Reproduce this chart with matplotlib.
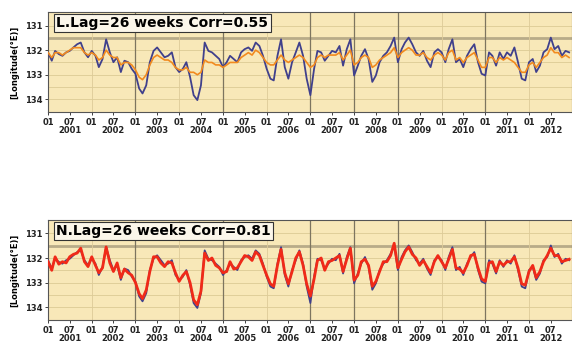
import numpy as np
import pandas as pd
import matplotlib
matplotlib.use("Agg")
import matplotlib.pyplot as plt

# ==== DATA (monthly) ====
observed = [
    132.09, 132.43, 132.03, 132.16, 132.23, 132.09, 132.03, 131.89, 131.76, 131.69, 132.09, 132.29,
    132.03, 132.23, 132.69, 132.36, 131.56, 132.09, 132.49, 132.29, 132.89, 132.43, 132.49, 132.76,
    132.96, 133.56, 133.76, 133.43, 132.49, 132.03, 131.89, 132.09, 132.29, 132.23, 132.09, 132.69,
    132.89, 132.76, 132.49, 133.09, 133.83, 134.03, 133.43, 131.69, 132.03, 132.09, 132.23, 132.36,
    132.69, 132.49, 132.23, 132.36, 132.49, 132.09, 131.96, 131.89, 132.03, 131.69, 131.83, 132.23,
    132.76, 133.16, 133.23, 132.23, 131.56, 132.69, 133.16, 132.49, 132.09, 131.69, 132.23, 133.16,
    133.83, 132.76, 132.03, 132.09, 132.43, 132.23, 132.03, 132.09, 131.83, 132.63, 131.96, 131.56,
    133.03, 132.63, 132.23, 131.96, 132.36, 133.29, 133.03, 132.49, 132.23, 132.09, 131.83, 131.49,
    132.49, 131.96, 131.69, 131.49, 131.76, 132.09, 132.23, 132.03, 132.43, 132.69, 132.09, 131.96,
    132.09, 132.49, 131.96, 131.56, 132.49, 132.36, 132.69, 132.23, 131.96, 131.76, 132.49, 132.96,
    133.03, 132.09, 132.23, 132.63, 132.09, 132.36, 132.09, 132.23, 131.89, 132.49, 133.16, 133.23,
    132.49, 132.36, 132.89, 132.63, 132.09, 131.96, 131.49, 131.96, 131.83, 132.23, 132.03, 132.09,
]

pred_linear = [
    132.1, 132.3, 132.1, 132.1, 132.2, 132.1, 132.0, 131.9, 131.9, 131.9, 132.1, 132.2,
    132.1, 132.2, 132.4, 132.3, 132.0, 132.2, 132.3, 132.3, 132.6, 132.5, 132.5, 132.6,
    132.8, 133.1, 133.2, 133.0, 132.6, 132.3, 132.2, 132.3, 132.4, 132.4, 132.5, 132.7,
    132.8, 132.8, 132.7, 132.9, 132.9, 133.0, 132.9, 132.4, 132.5, 132.5, 132.6, 132.6,
    132.7, 132.6, 132.5, 132.5, 132.5, 132.3, 132.2, 132.1, 132.2, 132.0, 132.1, 132.3,
    132.5, 132.6, 132.6, 132.4, 132.2, 132.4, 132.5, 132.4, 132.3, 132.2, 132.3, 132.5,
    132.7, 132.6, 132.3, 132.2, 132.3, 132.2, 132.2, 132.2, 132.1, 132.4, 132.2, 132.0,
    132.6, 132.5, 132.3, 132.2, 132.3, 132.7, 132.6, 132.4, 132.3, 132.2, 132.1, 131.9,
    132.3, 132.1, 132.0, 131.9, 132.0, 132.2, 132.2, 132.1, 132.3, 132.4, 132.2, 132.1,
    132.2, 132.4, 132.1, 132.0, 132.4, 132.3, 132.5, 132.3, 132.2, 132.1, 132.4, 132.7,
    132.7, 132.3, 132.3, 132.5, 132.3, 132.4, 132.3, 132.4, 132.5, 132.7, 132.9, 132.9,
    132.6, 132.5, 132.7, 132.5, 132.3, 132.2, 131.9, 132.1, 132.1, 132.3, 132.2, 132.3,
]

pred_nonlinear = [
    132.15, 132.50, 131.95, 132.25, 132.15, 132.20, 131.95, 131.85, 131.80, 131.60, 132.15, 132.35,
    131.95, 132.30, 132.60, 132.40, 131.55, 132.20, 132.55, 132.20, 132.80, 132.45, 132.60, 132.70,
    133.00, 133.45, 133.65, 133.30, 132.55, 131.95, 131.95, 132.20, 132.35, 132.15, 132.20, 132.60,
    132.95, 132.70, 132.55, 133.00, 133.70, 133.90, 133.35, 131.80, 132.10, 132.00, 132.30, 132.40,
    132.60, 132.55, 132.15, 132.45, 132.40, 132.15, 131.90, 131.95, 132.10, 131.75, 131.90, 132.30,
    132.70, 133.05, 133.15, 132.30, 131.65, 132.60, 133.05, 132.55, 132.00, 131.75, 132.30, 133.05,
    133.55, 132.85, 132.10, 132.00, 132.50, 132.15, 132.10, 132.00, 131.90, 132.55, 132.05, 131.60,
    132.90, 132.70, 132.15, 132.05, 132.30, 133.15, 132.95, 132.55, 132.15, 132.15, 131.90, 131.40,
    132.40, 132.05, 131.75, 131.55, 131.85, 132.00, 132.30, 132.10, 132.35, 132.60, 132.15, 131.90,
    132.15, 132.40, 132.05, 131.65, 132.40, 132.45, 132.60, 132.30, 131.90, 131.85, 132.40, 132.85,
    132.95, 132.20, 132.15, 132.55, 132.15, 132.30, 132.15, 132.15, 131.95, 132.40, 133.05, 133.10,
    132.55, 132.30, 132.80, 132.55, 132.15, 131.90, 131.60, 131.90, 131.90, 132.15, 132.10, 132.05,
]

panels = [
    ("L.Lag=26 weeks Corr=0.55", pred_linear, "#f28a1e", 1.2),
    ("N.Lag=26 weeks Corr=0.81", pred_nonlinear, "#f02a18", 2.0),
]

years = list(range(2001, 2013))
event_years = [2003, 2005, 2007, 2008, 2009, 2011]
y_ticks = [131, 132, 133, 134]

dates = pd.date_range("2001-01-01", periods=len(observed), freq="MS")

BG = "#f8e8b8"

fig = plt.figure(figsize=(5.72, 3.43), dpi=100)
axes_rects = [[0.084, 0.673, 0.916, 0.292], [0.084, 0.067, 0.916, 0.292]]

for rect, (label, pred, color, lw) in zip(axes_rects, panels):
    ax = fig.add_axes(rect)
    ax.set_facecolor(BG)

    # grid lines
    for v in np.arange(131.0, 134.01, 0.5):
        ax.axhline(v, color="#e0cf9a", lw=0.7, zorder=1)
    ax.axhline(131.5, color="#b8ab88", lw=2.0, zorder=1)
    for yr in years:
        ax.axvline(pd.Timestamp(f"{yr}-01-01"), color="#ddcb98", lw=0.6, zorder=1)
    for yr in event_years:
        ax.axvline(pd.Timestamp(f"{yr}-01-01"), color="#7d7560", lw=0.9, zorder=1)

    ax.plot(dates, observed, color="#40408c", lw=1.3, zorder=3)
    ax.plot(dates, pred, color=color, lw=lw, zorder=4)

    ax.set_xlim(pd.Timestamp("2001-01-01"), pd.Timestamp("2012-12-25"))
    ax.set_ylim(134.52, 130.45)
    ax.set_yticks(y_ticks)
    ax.set_yticklabels([str(t) for t in y_ticks], fontsize=6, fontweight="bold")
    ax.set_ylabel("[Longitude(°E)]", fontsize=6, fontweight="bold", labelpad=4)

    ticks, tlabels = [], []
    for yr in years:
        ticks.append(pd.Timestamp(f"{yr}-01-01"))
        tlabels.append("01")
        ticks.append(pd.Timestamp(f"{yr}-07-01"))
        tlabels.append(f"07\n{yr}")
    ax.set_xticks(ticks)
    ax.set_xticklabels(tlabels, fontsize=6, fontweight="bold", linespacing=0.95)
    ax.tick_params(axis="both", length=2, width=0.6, pad=2, colors="#222222")

    for s in ax.spines.values():
        s.set_color("#555555")
        s.set_linewidth(0.8)

    ax.text(0.016, 0.96, label, transform=ax.transAxes, fontsize=10, fontweight="bold",
            ha="left", va="top", zorder=6,
            bbox=dict(boxstyle="square,pad=0.15", fc="#fbf6ea", ec="#333333", lw=0.8))

fig.savefig("out.png", dpi=100)
